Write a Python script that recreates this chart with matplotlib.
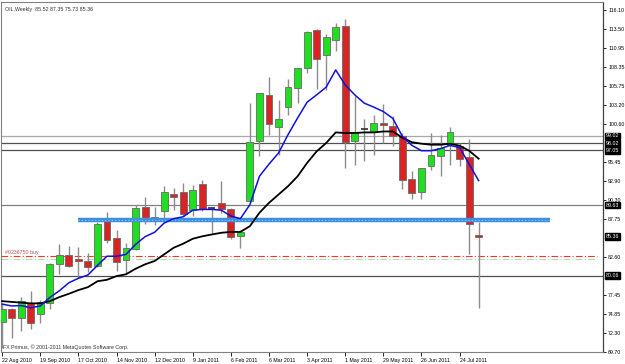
import matplotlib
matplotlib.use("Agg")
import matplotlib.pyplot as plt
import matplotlib.transforms as mtransforms
from matplotlib.patches import Rectangle

# ---------------- data (weekly OIL candles) ----------------
weeks = ["22 Aug 2010", "29 Aug 2010", "5 Sep 2010", "12 Sep 2010", "19 Sep 2010",
         "26 Sep 2010", "3 Oct 2010", "10 Oct 2010", "17 Oct 2010", "24 Oct 2010",
         "31 Oct 2010", "7 Nov 2010", "14 Nov 2010", "21 Nov 2010", "28 Nov 2010",
         "5 Dec 2010", "12 Dec 2010", "19 Dec 2010", "26 Dec 2010", "2 Jan 2011",
         "9 Jan 2011", "16 Jan 2011", "23 Jan 2011", "30 Jan 2011", "6 Feb 2011",
         "13 Feb 2011", "20 Feb 2011", "27 Feb 2011", "6 Mar 2011", "13 Mar 2011",
         "20 Mar 2011", "27 Mar 2011", "3 Apr 2011", "10 Apr 2011", "17 Apr 2011",
         "24 Apr 2011", "1 May 2011", "8 May 2011", "15 May 2011", "22 May 2011",
         "29 May 2011", "5 Jun 2011", "12 Jun 2011", "19 Jun 2011", "26 Jun 2011",
         "3 Jul 2011", "10 Jul 2011", "17 Jul 2011", "24 Jul 2011", "31 Jul 2011",
         "7 Aug 2011"]
opens = [73.8, 75.5, 74.25, 76.3, 74.8, 76.4, 81.7, 82.9, 82.3, 82.0,
         81.4, 87.45, 85.2, 82.2, 83.7, 89.4, 87.7, 88.8, 91.1, 91.4,
         89.0, 92.55, 89.3, 89.9, 89.1, 85.45, 90.15, 98.4, 104.6, 100.2,
         103.0, 105.5, 108.2, 113.4, 110.0, 112.0, 113.9, 98.3, 99.95, 99.6,
         100.75, 100.4, 98.95, 93.2, 91.4, 95.0, 96.25, 97.8, 97.6, 96.15,
         85.52]
highs = [76.4, 75.7, 77.1, 78.0, 76.8, 81.8, 84.4, 84.1, 83.9, 83.2,
         87.4, 88.7, 86.3, 84.5, 89.7, 90.75, 89.4, 92.2, 92.0, 92.65,
         92.4, 93.1, 89.4, 92.85, 89.2, 86.3, 103.5, 104.9, 107.0, 103.9,
         106.8, 108.25, 113.3, 113.5, 112.9, 114.3, 114.85, 104.4, 101.35, 101.9,
         103.4, 101.7, 99.4, 94.2, 94.7, 99.4, 99.2, 100.2, 98.0, 98.6,
         87.35]
lows = [70.3, 71.6, 72.6, 72.8, 73.6, 75.5, 80.3, 81.2, 79.8, 80.5,
        81.2, 84.5, 80.7, 80.4, 83.5, 87.1, 86.9, 87.7, 89.0, 88.1,
        88.2, 88.9, 85.9, 88.6, 85.05, 83.85, 90.15, 96.35, 99.2, 96.4,
        101.9, 103.5, 107.5, 105.4, 105.3, 110.6, 94.7, 95.1, 95.6, 96.5,
        98.05, 97.7, 91.8, 90.4, 90.4, 94.45, 93.55, 95.1, 94.9, 82.95,
        75.73]
closes = [75.5, 74.3, 76.6, 73.6, 76.55, 81.6, 82.85, 81.4, 82.0, 81.3,
          87.05, 84.9, 81.9, 83.85, 89.3, 87.7, 88.0, 91.4, 90.8, 88.45,
          91.65, 89.1, 89.3, 89.05, 85.35, 86.0, 98.2, 104.85, 100.6, 101.3,
          105.6, 108.2, 113.1, 109.4, 112.4, 113.75, 98.15, 99.5, 99.95, 100.75,
          100.45, 99.05, 93.1, 91.3, 94.65, 96.5, 97.4, 99.6, 95.9, 87.1,
          85.36]
ma_fast = [76.2, 75.95, 76.0, 75.7, 75.95, 77.1, 78.0, 79.1, 79.7, 80.15,
           81.45, 82.7, 82.7, 82.95, 84.3, 85.35, 85.95, 87.2, 87.8, 88.05,
           88.95, 89.05, 89.05, 88.95, 88.15, 87.8, 89.7, 93.55, 95.2, 96.7,
           99.2, 101.45, 103.6, 104.6, 105.64, 107.98, 105.95, 104.6, 103.47, 102.93,
           102.33, 101.4, 98.96, 97.74, 97.02, 97.02, 97.3, 97.74, 97.45, 95.2,
           92.96]
ma_slow = [76.6, 76.5, 76.4, 76.3, 76.3, 76.6, 77.15, 77.6, 78.1, 78.5,
           79.3, 79.5, 80.0, 80.25, 81.0, 81.6, 82.05, 82.95, 83.85, 84.4,
           85.07, 85.4, 85.65, 85.88, 86.0, 86.0, 86.78, 88.6, 89.94, 91.07,
           92.2, 93.54, 95.36, 96.93, 98.06, 99.5, 99.42, 99.42, 99.5, 99.5,
           99.63, 99.63, 98.78, 98.17, 97.97, 97.83, 97.83, 97.97, 97.7, 97.02,
           95.94]

level_values = [99.02, 98.02, 97.05, 89.63, 80.06]
level_colors = ["#a8a8a8", "#505050", "#505050", "#808080", "#505050"]
support_level = 87.6
support_span = (8.0, 57.5)          # in weeks
order_buy = 82.72
order_ask = 82.27
current_price = 85.36
ytick_values = [116.10, 113.50, 110.95, 108.35, 105.75, 103.20, 100.60, 95.45,
                92.90, 90.30, 87.75, 82.60, 77.45, 74.85, 72.30, 69.70]
xtick_every = 4

# ---------------- figure ----------------
W, H = 625, 364
fig = plt.figure(figsize=(W / 100, H / 100), dpi=100)
fig.patch.set_facecolor("white")
ax = fig.add_axes([1 / W, 12 / H, 602 / W, 350 / H])
ax.set_facecolor("white")
ax.set_xlim(-0.12, 63.05)
ax.set_ylim(69.8, 117.2)

FONT = ["Liberation Sans", "DejaVu Sans"]
fs = 3.8

x = list(range(len(opens)))
bw = 0.72
for i in x:
    o, h, l, c = opens[i], highs[i], lows[i], closes[i]
    ax.vlines(i, l, h, color="#8c8c8c", lw=1.0, zorder=3)
    if abs(c - o) < 0.02:
        ax.hlines(o, i - bw / 2, i + bw / 2, color="#303030", lw=1.2, zorder=4)
        continue
    col = "#1ee01e" if c > o else "#d82424"
    lo = min(o, c)
    hgt = max(abs(c - o), 0.18)
    ax.add_patch(Rectangle((i - bw / 2, lo), bw, hgt, facecolor=col,
                           edgecolor="#6a6a6a", lw=0.6, zorder=4))

# horizontal levels
for v, colr in zip(level_values, level_colors):
    ax.axhline(v, color=colr, lw=0.9, zorder=1)

ax.hlines(support_level, support_span[0], support_span[1], color="#3d8fe0",
          lw=3.2, zorder=5)
ax.hlines(support_level, support_span[0], support_span[1], color="#9ec8f0",
          lw=0.8, linestyles=(0, (1, 2)), zorder=6)

ax.axhline(order_buy, xmin=0, xmax=0.99, color="#ff3030", lw=0.8,
           linestyle=(0, (6, 2, 1, 2)), zorder=2)
ax.axhline(order_ask, xmin=0, xmax=0.99, color="#a8e0a8", lw=0.8,
           linestyle=(0, (6, 2, 1, 2)), zorder=2)
ax.text(0.3, order_buy + 0.1, "#0236750 buy", color="#b05050", fontsize=fs,
        family=FONT, va="bottom", ha="left", zorder=7)

# moving averages
ax.plot(x, ma_slow, color="black", lw=1.3, zorder=6)
ax.plot(x, ma_fast, color="#1010e0", lw=1.1, zorder=7)

# axes styling
for s in ["left", "top", "bottom"]:
    ax.spines[s].set_color("#808080")
    ax.spines[s].set_linewidth(0.8)
ax.spines["right"].set_color("#404040")
ax.spines["right"].set_linewidth(0.9)
ax.yaxis.tick_right()
ax.set_yticks(ytick_values)
ax.set_yticklabels([f"{v:.2f}" for v in ytick_values], fontsize=fs, family=FONT)
ax.tick_params(axis="y", length=2.5, width=0.6, pad=1.2, colors="black")

xt = list(range(0, len(weeks), xtick_every))
ax.set_xticks(xt)
ax.set_xticklabels([weeks[i] for i in xt], fontsize=fs, family=FONT)
for lab in ax.get_xticklabels():
    lab.set_horizontalalignment("left")
ax.tick_params(axis="x", length=3, width=0.6, pad=1.0, colors="black")

# boxed price labels on the axis
trans = mtransforms.blended_transform_factory(ax.transAxes, ax.transData)
for v in level_values + [current_price]:
    ax.text(1.004, v, f"{v:.2f}", transform=trans, fontsize=fs, family=FONT,
            color="white", va="center", ha="left", zorder=10, clip_on=False,
            bbox=dict(boxstyle="square,pad=0.15", facecolor="black",
                      edgecolor="black"))

ax.text(0.006, 0.985, "OIL,Weekly  85.52 87.35 75.73 85.36", transform=ax.transAxes,
        fontsize=fs, family=FONT, color="#303030", va="top", ha="left")
ax.text(0.004, 0.006, "FX Primus, \u00a9 2001-2011 MetaQuotes Software Corp.",
        transform=ax.transAxes, fontsize=fs, family=FONT, color="#303030",
        va="bottom", ha="left")

fig.savefig("out.png", dpi=100)
